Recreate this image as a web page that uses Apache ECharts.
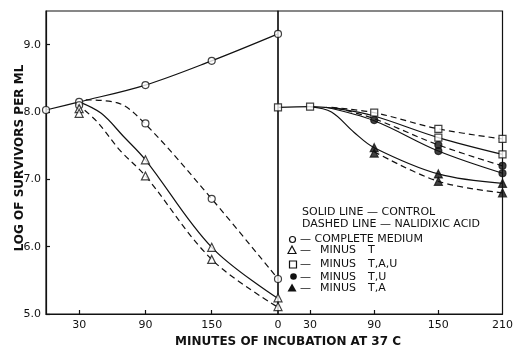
<!DOCTYPE html>
<html>
<head>
<meta charset="utf-8">
<script src="https://cdn.jsdelivr.net/npm/echarts@6/dist/echarts.min.js"></script>
<style>
  html, body { margin: 0; background: #fff; }
  #chart { width: 516px; height: 357px; }
</style>
</head>
<body>
<div id="chart"></div>
<script>
// sampling times (min) used for the plotted points in each panel
const minutes = [0, 30, 90, 150, 210];

// left panel: measured points
const mediumCtrl = [8.03, 8.15, 8.40, 8.76, 9.16];
const mediumNal = [null, 8.10, 7.83, 6.71, 5.52];
const minusTCtrl = [null, 8.05, 7.29, 5.99, 5.24];
const minusTNal = [null, 7.98, 7.05, 5.81, 5.11];

// right panel: measured points
const tauCtrl = [8.07, 8.08, 7.99, 7.62, 7.37];
const tauNal = [null, null, null, 7.75, 7.60];
const tuCtrl = [null, null, 7.88, 7.42, 7.09];
const tuNal = [null, null, null, 7.51, 7.20];
const taCtrl = [null, null, 7.47, 7.08, 6.94];
const taNal = [null, null, 7.39, 6.97, 6.80];

// fitted curves drawn by hand in the original
const mediumCtrlCurve = [[0, 8.03], [30, 8.15], [90, 8.40], [150, 8.76], [210, 9.16]];
const mediumNalCurve = [[36, 8.18], [64, 8.14], [90, 7.82], [150, 6.71], [210, 5.52]];
const minusTCtrlCurve = [[30, 8.15], [50, 7.98], [70, 7.64], [90, 7.29], [150, 5.99], [210, 5.23]];
const minusTNalCurve = [[28, 8.12], [46, 7.86], [67, 7.43], [90, 7.05], [150, 5.81], [210, 5.1]];

const tauCtrlCurve = [[0, 8.07], [30, 8.08], [60, 8.04], [90, 7.94], [150, 7.62], [210, 7.37]];
const tauNalCurve = [[50, 8.07], [90, 7.99], [150, 7.75], [210, 7.6]];
const tuCtrlCurve = [[45, 8.07], [90, 7.87], [150, 7.42], [210, 7.09]];
const tuNalCurve = [[55, 8.06], [90, 7.9], [150, 7.51], [210, 7.2]];
const taCtrlCurve = [[30, 8.08], [50, 8.0], [71, 7.7], [90, 7.47], [150, 7.08], [210, 6.94]];
const taNalCurve = [[90, 7.41], [150, 6.97], [210, 6.8]];

// axis ticks
const yTicks = [5, 6, 7, 8, 9];
const leftTicks = [30, 90, 150];
const rightTicks = [0, 30, 90, 150, 210];

const INK = "#111";
const FONT = "DejaVu Sans";

const pts = (ys) => minutes.map((m, i) => [m, ys[i]]).filter((p) => p[1] != null);

const curve = (data, grid, dashed) => ({
  type: "line",
  xAxisIndex: grid,
  yAxisIndex: grid,
  data,
  smooth: 0.35,
  showSymbol: false,
  silent: true,
  lineStyle: { color: INK, width: 1.2, type: dashed ? [6, 4] : "solid" },
  z: 2,
});

const dots = (ys, grid, symbol, filled) => ({
  type: "scatter",
  xAxisIndex: grid,
  yAxisIndex: grid,
  data: pts(ys),
  symbol,
  symbolSize: symbol === "triangle" ? 8 : 7,
  clip: false,
  silent: true,
  itemStyle: { color: filled ? INK : "#fff", borderColor: INK, borderWidth: 1.2 },
  z: 3,
});

const xAxisFor = (grid, labels) => ({
  type: "value",
  gridIndex: grid,
  min: 0,
  max: 210,
  axisLine: { lineStyle: { color: INK, width: 1.2 } },
  axisTick: { customValues: leftTicks, inside: true, length: 4, lineStyle: { color: INK, width: 1.2 } },
  axisLabel: { customValues: labels, margin: 6, color: INK, fontFamily: FONT, fontSize: 11 },
  splitLine: { show: false },
});

const yAxisFor = (grid) => ({
  type: "value",
  gridIndex: grid,
  min: 5,
  max: 9.5,
  axisLine: { show: grid === 0, lineStyle: { color: INK, width: 1.2 } },
  axisTick: { show: grid === 0, customValues: yTicks, inside: true, length: 4, lineStyle: { color: INK, width: 1.2 } },
  axisLabel: {
    show: grid === 0,
    customValues: yTicks,
    margin: 5,
    color: INK,
    fontFamily: FONT,
    fontSize: 11,
    formatter: (v) => v.toFixed(1),
  },
  splitLine: { show: false },
});

const legendText = (x, y, text) => ({
  type: "text",
  x, y,
  style: { text, fill: INK, font: "11px " + FONT, textVerticalAlign: "middle" },
});

const gridStyle = { show: true, borderColor: INK, borderWidth: 1.2, backgroundColor: "transparent" };

const chart = echarts.init(document.getElementById("chart"));

const option = {
  animation: false,
  backgroundColor: "#fff",
  grid: [
    { left: 46, right: 238, top: 11, bottom: 43, ...gridStyle },
    { left: 278, right: 7, top: 11, bottom: 43, ...gridStyle },
  ],
  xAxis: [xAxisFor(0, leftTicks), xAxisFor(1, rightTicks)],
  yAxis: [yAxisFor(0), yAxisFor(1)],
  series: [
    curve(mediumCtrlCurve, 0, false),
    curve(mediumNalCurve, 0, true),
    curve(minusTCtrlCurve, 0, false),
    curve(minusTNalCurve, 0, true),
    curve(tauCtrlCurve, 1, false),
    curve(tauNalCurve, 1, true),
    curve(tuCtrlCurve, 1, false),
    curve(tuNalCurve, 1, true),
    curve(taCtrlCurve, 1, false),
    curve(taNalCurve, 1, true),

    dots(mediumCtrl, 0, "circle", false),
    dots(mediumNal, 0, "circle", false),
    dots(minusTCtrl, 0, "triangle", false),
    dots(minusTNal, 0, "triangle", false),
    dots(tauCtrl, 1, "rect", false),
    dots(tauNal, 1, "rect", false),
    dots(tuCtrl, 1, "circle", true),
    dots(tuNal, 1, "circle", true),
    dots(taCtrl, 1, "triangle", true),
    dots(taNal, 1, "triangle", true),
  ],
  graphic: [
    {
      type: "text",
      x: 20, y: 158,
      rotation: Math.PI / 2,
      style: { text: "LOG OF SURVIVORS PER ML", fill: INK, font: "bold 12px " + FONT, textAlign: "center", textVerticalAlign: "middle" },
    },
    {
      type: "text",
      x: 288, y: 342,
      style: { text: "MINUTES OF INCUBATION AT 37 C", fill: INK, font: "bold 12px " + FONT, textAlign: "center", textVerticalAlign: "middle" },
    },
    // key
    legendText(302, 212, "SOLID LINE — CONTROL"),
    legendText(302, 224, "DASHED LINE — NALIDIXIC ACID"),
    { type: "circle", shape: { cx: 292.5, cy: 239.5, r: 3 }, style: { fill: "#fff", stroke: INK, lineWidth: 1.2 } },
    legendText(300, 239.5, "— COMPLETE MEDIUM"),
    { type: "polygon", shape: { points: [[292, 246], [296, 253.5], [288, 253.5]] }, style: { fill: "#fff", stroke: INK, lineWidth: 1.2 } },
    legendText(300, 250.5, "—"), legendText(320, 250.5, "MINUS"), legendText(368, 250.5, "T"),
    { type: "rect", shape: { x: 289.5, y: 261, width: 7, height: 7 }, style: { fill: "#fff", stroke: INK, lineWidth: 1.2 } },
    legendText(300, 264.5, "—"), legendText(320, 264.5, "MINUS"), legendText(368, 264.5, "T,A,U"),
    { type: "circle", shape: { cx: 293.5, cy: 276.5, r: 3.3 }, style: { fill: INK } },
    legendText(300, 277, "—"), legendText(320, 277, "MINUS"), legendText(368, 277, "T,U"),
    { type: "polygon", shape: { points: [[292, 283.5], [296.5, 291.5], [287.5, 291.5]] }, style: { fill: INK } },
    legendText(300, 288, "—"), legendText(320, 288, "MINUS"), legendText(368, 288, "T,A"),
  ],
};

chart.setOption(option);
</script>
</body>
</html>
